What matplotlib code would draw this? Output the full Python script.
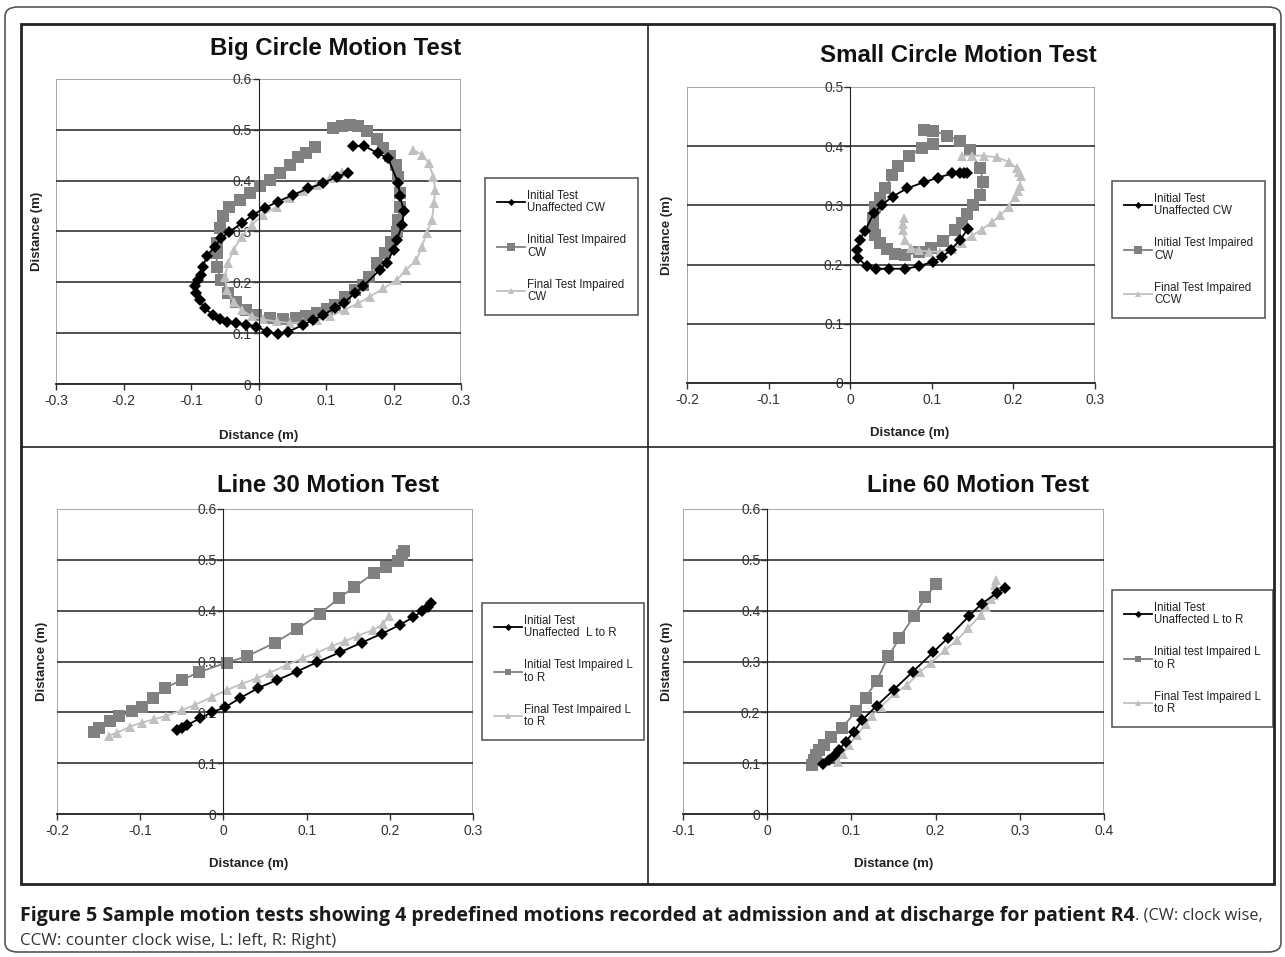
import matplotlib.pyplot as plt
from matplotlib.patches import Rectangle, FancyBboxPatch
from matplotlib.lines import Line2D
from matplotlib.ticker import FuncFormatter, MultipleLocator

plt.rcParams['font.family'] = ['Liberation Sans', 'DejaVu Sans']

# ---- Big circle motion test ----
big_unaff_x = [0.140, 0.157, 0.177, 0.192, 0.207, 0.210, 0.215, 0.213, 0.205, 0.200, 0.190, 0.180, 0.155, 0.143,
               0.126, 0.113, 0.096, 0.081, 0.066, 0.044, 0.029, 0.013, -0.003, -0.018, -0.033, -0.047, -0.057,
               -0.067, -0.080, -0.087, -0.092, -0.094, -0.089, -0.085, -0.082, -0.077, -0.065, -0.055, -0.043,
               -0.025, -0.008, 0.009, 0.029, 0.051, 0.074, 0.096, 0.116, 0.133]
big_unaff_y = [0.469, 0.468, 0.454, 0.444, 0.395, 0.369, 0.340, 0.313, 0.284, 0.264, 0.238, 0.225, 0.192, 0.179,
               0.159, 0.149, 0.136, 0.126, 0.116, 0.103, 0.098, 0.103, 0.113, 0.116, 0.120, 0.121, 0.127,
               0.136, 0.149, 0.165, 0.179, 0.192, 0.205, 0.215, 0.231, 0.251, 0.270, 0.287, 0.300,
               0.316, 0.333, 0.346, 0.359, 0.372, 0.385, 0.395, 0.408, 0.415]
big_init_x = [0.084, 0.071, 0.059, 0.046, 0.032, 0.017, 0.002, -0.013, -0.028, -0.043, -0.052, -0.057, -0.062,
              -0.062, -0.062, -0.055, -0.045, -0.033, -0.018, -0.003, 0.017, 0.037, 0.056, 0.071, 0.086, 0.101,
              0.113, 0.128, 0.143, 0.155, 0.163, 0.175, 0.187, 0.197, 0.205, 0.207, 0.209, 0.209, 0.207, 0.204,
              0.195, 0.185, 0.175, 0.160, 0.148, 0.135, 0.123, 0.111]
big_init_y = [0.466, 0.454, 0.446, 0.431, 0.415, 0.402, 0.389, 0.376, 0.362, 0.349, 0.330, 0.307, 0.277,
              0.257, 0.231, 0.205, 0.179, 0.162, 0.146, 0.136, 0.129, 0.127, 0.129, 0.134, 0.139, 0.147,
              0.156, 0.172, 0.185, 0.195, 0.211, 0.238, 0.257, 0.280, 0.300, 0.323, 0.349, 0.376, 0.408, 0.431,
              0.448, 0.464, 0.481, 0.497, 0.507, 0.510, 0.507, 0.504]
big_final_x = [0.229, 0.242, 0.252, 0.259, 0.262, 0.260, 0.257, 0.249, 0.242, 0.234, 0.219, 0.205, 0.185, 0.165,
               0.148, 0.128, 0.106, 0.086, 0.066, 0.046, 0.027, 0.007, -0.010, -0.025, -0.037, -0.047, -0.050,
               -0.045, -0.037, -0.025, -0.010, 0.007, 0.027, 0.046, 0.066, 0.086, 0.106, 0.123]
big_final_y = [0.461, 0.451, 0.435, 0.408, 0.382, 0.356, 0.323, 0.297, 0.270, 0.244, 0.225, 0.205, 0.188, 0.172,
               0.159, 0.146, 0.133, 0.125, 0.121, 0.120, 0.123, 0.127, 0.133, 0.146, 0.162, 0.185, 0.211,
               0.238, 0.264, 0.290, 0.313, 0.333, 0.349, 0.366, 0.379, 0.392, 0.405, 0.418]

# ---- Small circle motion test ----
small_unaff_x = [0.143, 0.139, 0.135, 0.125, 0.108, 0.090, 0.070, 0.052, 0.039, 0.029, 0.018, 0.012, 0.008,
                 0.010, 0.020, 0.032, 0.048, 0.067, 0.084, 0.101, 0.112, 0.123, 0.135, 0.144]
small_unaff_y = [0.355, 0.354, 0.354, 0.354, 0.347, 0.339, 0.329, 0.315, 0.301, 0.287, 0.257, 0.242, 0.224,
                 0.211, 0.197, 0.193, 0.193, 0.193, 0.197, 0.205, 0.212, 0.225, 0.242, 0.260]
small_init_x = [0.091, 0.102, 0.119, 0.135, 0.147, 0.159, 0.163, 0.159, 0.151, 0.143, 0.137, 0.129, 0.114,
                0.099, 0.084, 0.067, 0.055, 0.045, 0.037, 0.031, 0.028, 0.028, 0.031, 0.036, 0.043, 0.051,
                0.059, 0.072, 0.088, 0.102]
small_init_y = [0.427, 0.426, 0.418, 0.408, 0.393, 0.363, 0.340, 0.317, 0.301, 0.285, 0.271, 0.258, 0.240,
                0.228, 0.221, 0.216, 0.218, 0.226, 0.236, 0.250, 0.265, 0.279, 0.297, 0.313, 0.329, 0.351,
                0.367, 0.384, 0.397, 0.404]
small_final_x = [0.066, 0.065, 0.065, 0.067, 0.074, 0.084, 0.096, 0.110, 0.125, 0.137, 0.149, 0.161, 0.174,
                 0.184, 0.194, 0.202, 0.206, 0.208, 0.209, 0.207, 0.204, 0.194, 0.180, 0.164, 0.149, 0.137]
small_final_y = [0.279, 0.268, 0.259, 0.242, 0.228, 0.224, 0.222, 0.222, 0.226, 0.236, 0.249, 0.259, 0.272,
                 0.283, 0.298, 0.315, 0.324, 0.332, 0.349, 0.357, 0.363, 0.374, 0.381, 0.384, 0.384, 0.384]

# ---- Line 30 motion test ----
l30_unaff_x = [-0.056, -0.050, -0.044, -0.028, -0.014, 0.002, 0.020, 0.042, 0.065, 0.088, 0.113, 0.140, 0.166,
               0.191, 0.212, 0.228, 0.239, 0.246, 0.250]
l30_unaff_y = [0.165, 0.169, 0.175, 0.188, 0.200, 0.210, 0.228, 0.248, 0.264, 0.280, 0.299, 0.318, 0.337,
               0.355, 0.372, 0.387, 0.399, 0.408, 0.416]
l30_init_x = [-0.155, -0.150, -0.136, -0.125, -0.110, -0.098, -0.085, -0.070, -0.050, -0.029, 0.004, 0.028,
              0.062, 0.089, 0.116, 0.139, 0.157, 0.181, 0.196, 0.210, 0.215, 0.217]
l30_init_y = [0.162, 0.169, 0.182, 0.192, 0.202, 0.211, 0.228, 0.248, 0.264, 0.279, 0.298, 0.310,
              0.337, 0.364, 0.394, 0.425, 0.446, 0.474, 0.486, 0.497, 0.510, 0.517]
l30_final_x = [-0.138, -0.128, -0.112, -0.098, -0.084, -0.069, -0.050, -0.034, -0.014, 0.004, 0.022, 0.040,
               0.056, 0.076, 0.096, 0.112, 0.130, 0.146, 0.162, 0.180, 0.192, 0.199]
l30_final_y = [0.154, 0.160, 0.172, 0.180, 0.186, 0.193, 0.204, 0.215, 0.230, 0.244, 0.256, 0.267,
               0.278, 0.293, 0.307, 0.317, 0.330, 0.340, 0.351, 0.362, 0.374, 0.389]

# ---- Line 60 motion test ----
l60_unaff_x = [0.066, 0.073, 0.079, 0.085, 0.093, 0.103, 0.113, 0.130, 0.150, 0.173, 0.197, 0.215, 0.240,
               0.255, 0.273, 0.283]
l60_unaff_y = [0.098, 0.106, 0.115, 0.126, 0.142, 0.162, 0.185, 0.213, 0.244, 0.280, 0.318, 0.347, 0.390,
               0.414, 0.435, 0.445]
l60_init_x = [0.053, 0.055, 0.058, 0.062, 0.067, 0.076, 0.089, 0.106, 0.117, 0.130, 0.144, 0.157, 0.174,
              0.188, 0.200]
l60_init_y = [0.096, 0.106, 0.116, 0.126, 0.136, 0.151, 0.170, 0.203, 0.229, 0.262, 0.310, 0.346, 0.389,
              0.426, 0.452]
l60_final_x = [0.084, 0.090, 0.097, 0.107, 0.117, 0.124, 0.135, 0.152, 0.166, 0.182, 0.194, 0.211, 0.226,
               0.239, 0.254, 0.260, 0.266, 0.269, 0.271, 0.272]
l60_final_y = [0.103, 0.119, 0.136, 0.156, 0.177, 0.192, 0.211, 0.238, 0.254, 0.280, 0.297, 0.322, 0.343,
               0.366, 0.392, 0.408, 0.422, 0.431, 0.451, 0.460]

W, H = 1285, 957
fig = plt.figure(figsize=(W / 100, H / 100), dpi=100)


def px(x0, y0, x1, y1):
    # pixel box (top-left origin) -> figure fraction rect
    return [x0 / W, 1 - y1 / H, (x1 - x0) / W, (y1 - y0) / H]


# outer rounded border and inner panel frame
fig.patches.append(FancyBboxPatch((5 / W, 1 - 952 / H), 1276 / W, 945 / H,
                                  boxstyle='round,pad=0,rounding_size=0.01', transform=fig.transFigure,
                                  fill=False, edgecolor='#555555', linewidth=1.2))
fig.patches.append(Rectangle((21 / W, 1 - 884 / H), 1253 / W, 860 / H, transform=fig.transFigure,
                             fill=False, edgecolor='#222222', linewidth=2))
fig.lines.append(Line2D([648 / W, 648 / W], [1 - 884 / H, 1 - 24 / H], transform=fig.transFigure,
                        color='#222222', linewidth=1.2))
fig.lines.append(Line2D([21 / W, 1274 / W], [1 - 447 / H, 1 - 447 / H], transform=fig.transFigure,
                        color='#222222', linewidth=1.2))

fmt = FuncFormatter(lambda v, p: '0' if abs(v) < 1e-9 else f'{v:g}')


def draw_panel(rect, title, title_xy, xlim, ylim, series, labels, leg_xy, ylab_x, xlab_xy, ms):
    ax = fig.add_axes(rect)
    ax.set_xlim(*xlim)
    ax.set_ylim(*ylim)
    ax.xaxis.set_major_locator(MultipleLocator(0.1))
    ax.yaxis.set_major_locator(MultipleLocator(0.1))
    ax.xaxis.set_major_formatter(fmt)
    ax.yaxis.set_major_formatter(fmt)
    for s in ['top', 'right']:
        ax.spines[s].set_visible(False)
    ax.spines['left'].set_position(('data', 0))
    ax.spines['left'].set_color('#222222')
    ax.spines['bottom'].set_color('#222222')
    ax.spines['bottom'].set_linewidth(1.3)
    ax.add_patch(Rectangle((0, 0), 1, 1, transform=ax.transAxes, fill=False,
                           edgecolor='#9a9a9a', linewidth=1.2, zorder=0.5))
    for yv in ax.get_yticks():
        if ylim[0] < yv < ylim[1] - 1e-9:
            ax.axhline(yv, color='#222222', linewidth=1.1, zorder=1)
    ax.tick_params(axis='both', labelsize=10, colors='#333333', length=4, width=1, pad=3)
    ax.tick_params(axis='y', pad=1)

    handles = []
    styles = [('#000000', 'D', ms[0]), ('#808080', 's', ms[1]), ('#c0c0c0', '^', ms[2])]
    for (xs, ys), (c, m, size), lab in zip(series, styles, labels):
        h, = ax.plot(xs, ys, color=c, marker=m, markersize=size, linewidth=1.3,
                     markeredgewidth=0, label=lab, zorder=2)
        handles.append(h)
    # black series sits on top like the original
    handles[0].set_zorder(4)

    ax.set_xlabel('Distance (m)', fontsize=9.5, fontweight='bold', color='#222222')
    ax.set_ylabel('Distance (m)', fontsize=9.5, fontweight='bold', color='#222222')
    ax.xaxis.set_label_coords(*xlab_xy)
    ax.yaxis.set_label_coords(ylab_x, 0.5)

    fig.text(title_xy[0] / W, 1 - title_xy[1] / H, title, fontsize=17.3, fontweight='bold',
             ha='center', va='center', color='#111111')

    leg = fig.legend(handles=handles, labels=labels, loc='upper left',
                     bbox_to_anchor=(leg_xy[0] / W, 1 - leg_xy[1] / H), bbox_transform=fig.transFigure,
                     fontsize=8.3, frameon=True, fancybox=False, edgecolor='#222222', borderaxespad=0,
                     handlelength=2.5, handletextpad=0.15, labelspacing=1.75, borderpad=1.0,
                     markerscale=0.6)
    leg.get_frame().set_linewidth(1.1)
    for t in leg.get_texts():
        t.set_color('#222222')
        t.set_linespacing(1.05)
    return ax


draw_panel(px(56, 79, 461, 384), 'Big Circle Motion Test', (336, 49), (-0.3, 0.3), (0, 0.6),
           [(big_unaff_x, big_unaff_y), (big_init_x, big_init_y), (big_final_x, big_final_y)],
           ['Initial Test\nUnaffected CW', 'Initial Test Impaired\nCW', 'Final Test Impaired\nCW'],
           (485, 178), -0.032, (0.5, -0.15), (6, 8.5, 7))

draw_panel(px(687, 87, 1095, 383), 'Small Circle Motion Test', (958, 55), (-0.2, 0.3), (0, 0.5),
           [(small_unaff_x, small_unaff_y), (small_init_x, small_init_y), (small_final_x, small_final_y)],
           ['Initial Test\nUnaffected CW', 'Initial Test Impaired\nCW', 'Final Test Impaired\nCCW'],
           (1112, 181), -0.034, (0.545, -0.15), (6, 8.5, 7))

draw_panel(px(57, 509, 473, 814), 'Line 30 Motion Test', (328, 485), (-0.2, 0.3), (0, 0.6),
           [(l30_unaff_x, l30_unaff_y), (l30_init_x, l30_init_y), (l30_final_x, l30_final_y)],
           ['Initial Test\nUnaffected  L to R', 'Initial Test Impaired L\nto R', 'Final Test Impaired L\nto R'],
           (482, 603), -0.022, (0.46, -0.145), (6, 8, 7))

draw_panel(px(683, 509, 1104, 814), 'Line 60 Motion Test', (978, 485), (-0.1, 0.4), (0, 0.6),
           [(l60_unaff_x, l60_unaff_y), (l60_init_x, l60_init_y), (l60_final_x, l60_final_y)],
           ['Initial Test\nUnaffected L to R', 'Initial test Impaired L\nto R', 'Final Test Impaired L\nto R'],
           (1112, 590), -0.024, (0.5, -0.145), (6, 8, 7))

# caption
cap_font = ['Open Sans', 'DejaVu Sans']
cap_bold = ('Figure 5 Sample motion tests showing 4 predefined motions recorded at '
            'admission and at discharge for patient R4')
t1 = fig.text(20 / W, 1 - 916 / H, cap_bold, fontsize=12, fontweight='bold',
              family=cap_font, color='#1a1a1a', va='center')
renderer = fig.canvas.get_renderer()
bb = t1.get_window_extent(renderer)
# size the bold run so it ends where the reference's does
t1.set_fontsize(12 * (1135 - 20) / bb.width)
bb = t1.get_window_extent(renderer)
fig.text(bb.x1 / W, 1 - 916 / H, '. (CW: clock wise,', fontsize=11.8, family=cap_font,
         color='#333333', va='center')
fig.text(20 / W, 1 - 941 / H, 'CCW: counter clock wise, L: left, R: Right)', fontsize=12.2,
         family=cap_font, color='#333333', va='center')

fig.savefig('out.png', dpi=100)
